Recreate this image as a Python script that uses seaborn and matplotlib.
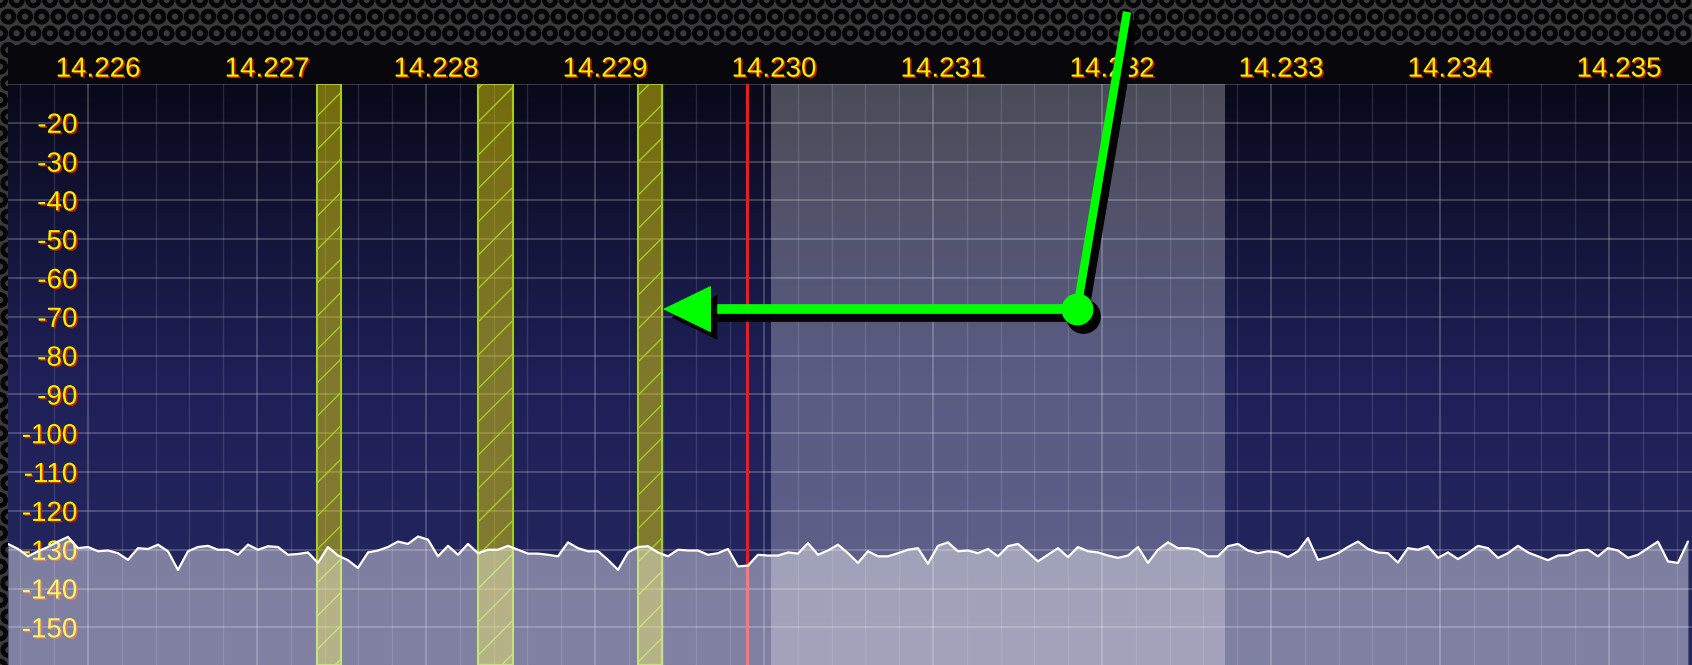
import numpy as np
import pandas as pd
import matplotlib
matplotlib.use("Agg")
import matplotlib.pyplot as plt
import matplotlib.patheffects as pe
from matplotlib.colors import LinearSegmentedColormap
from matplotlib.patches import Rectangle
from matplotlib.transforms import ScaledTranslation
import seaborn as sns

# --- data ---
freq_start = 14.225527   # MHz, first bin at left edge
freq_end = 14.235467     # MHz, last bin at right edge
levels_db = [
    -128.5, -129.8, -131.7, -130.4, -129.3, -127.9, -126.7, -129.6, -129.3, -130.4,
    -130.2, -130.9, -132.6, -129.6, -129.8, -128.7, -130.4, -135.2, -130.4, -129.3,
    -129.0, -130.0, -130.0, -131.3, -128.7, -130.0, -129.1, -129.3, -131.3,
    -131.1, -130.7, -133.4, -129.3, -131.5, -132.7, -134.7, -130.7, -130.2, -129.3,
    -127.9, -128.5, -126.6, -127.4, -131.7, -129.0, -131.3, -128.5, -130.9, -130.0,
    -130.0, -129.0, -130.0, -131.0, -131.0, -131.3, -131.7, -128.1, -129.6,
    -130.4, -130.4, -132.6, -135.2, -130.7, -129.3, -129.1, -130.7, -131.7, -130.0,
    -130.2, -130.2, -131.3, -130.9, -129.8, -134.3, -134.1, -131.3, -131.5, -131.5,
    -130.7, -131.0, -128.3, -131.3, -130.2, -128.7, -130.9, -133.4, -130.4,
    -131.7, -131.7, -130.9, -130.0, -129.6, -133.6, -129.0, -128.1, -130.4, -130.2,
    -130.9, -129.8, -131.7, -129.1, -128.5, -130.7, -133.0, -131.3, -129.6, -131.9,
    -129.3, -130.4, -130.7, -131.5, -132.1, -131.5, -129.3, -133.4, -130.0,
    -128.1, -129.6, -129.6, -130.0, -131.7, -131.7, -129.1, -128.5, -130.2, -130.9,
    -130.4, -130.7, -131.9, -130.4, -127.0, -132.6, -131.9, -130.9, -129.3, -127.9,
    -129.8, -130.7, -130.9, -133.3, -129.6, -130.0, -129.1, -132.1, -130.7,
    -132.4, -130.9, -129.0, -129.6, -132.1, -130.9, -129.0, -130.7, -131.7, -132.7,
    -131.5, -131.4, -130.2, -130.0, -131.7, -129.6, -130.2, -132.1, -131.3, -129.6,
    -127.9, -133.0, -133.4, -127.9,
]
x_ticks = [14.226, 14.227, 14.228, 14.229, 14.230, 14.231, 14.232, 14.233, 14.234, 14.235]
x_tick_labels = ["14.226", "14.227", "14.228", "14.229", "14.230",
                 "14.231", "14.232", "14.233", "14.234", "14.235"]
y_ticks = [-20, -30, -40, -50, -60, -70, -80, -90, -100, -110, -120, -130, -140, -150]
y_tick_labels = [str(v) for v in y_ticks]

# markers (spots) shown as yellow bands
marker_low = [14.227355, 14.228308, 14.229254]
marker_high = [14.227497, 14.228515, 14.229396]
tuned_freq = 14.22990
filter_low = 14.23004
filter_high = 14.23273

# green annotation arrow
circle_x, circle_y = 14.231852, -68.0
arrow_tip_x = 14.229402
stick_top_x, stick_top_y = 14.232148, 8.6

x_min, x_max = 14.225527, 14.235491
y_min, y_max = -159.7, -10.0

spectrum = pd.DataFrame({
    "freq": np.linspace(freq_start, freq_end, len(levels_db)),
    "level": levels_db,
})

# --- figure ---
sns.set_style("dark")
plt.rcParams["font.family"] = ["Liberation Sans", "DejaVu Sans"]
plt.rcParams["hatch.linewidth"] = 1.0

fig = plt.figure(figsize=(16.92, 6.65), dpi=100)
fig.patch.set_facecolor("#3a3a3c")
metal = Rectangle((0, 0), 1, 1, transform=fig.transFigure, facecolor="#3a3a3c",
                  edgecolor="#050505", hatch="O", lw=0, zorder=-10)
if hasattr(metal, "set_hatch_linewidth"):
    metal.set_hatch_linewidth(3.0)
fig.add_artist(metal)
left = 8 / 1692
top = 1 - 84 / 665
fig.add_artist(Rectangle((left, top), 1 - left, 39 / 665, transform=fig.transFigure,
                         facecolor="#07070c", edgecolor="none", zorder=-5))

ax = fig.add_axes([left, 0, 1 - left, top])

# background gradient: near black at the top, navy towards the noise floor
bg_cmap = LinearSegmentedColormap.from_list("bg", ["#252760", "#1e2057", "#09091a"])
grad = np.linspace(0, 1, 256).reshape(-1, 1)
ax.imshow(grad, extent=[x_min, x_max, y_min, y_max], origin="lower", aspect="auto",
          cmap=bg_cmap, zorder=0)

# filter passband
ax.axvspan(filter_low, filter_high, color="white", alpha=0.27, lw=0, zorder=2)

# spot markers
for lo, hi in zip(marker_low, marker_high):
    ax.axvspan(lo, hi, facecolor=(0.92, 0.85, 0.0, 0.48), edgecolor="#a2cc24",
               hatch="/", lw=1.5, zorder=3)

# tuned frequency
ax.axvline(tuned_freq, color="#ff1414", lw=2.3, zorder=3)

# noise floor
ax.fill_between(spectrum["freq"], spectrum["level"], y_min, color="white", alpha=0.42,
                lw=0, zorder=4)
sns.lineplot(data=spectrum, x="freq", y="level", color="white", lw=1.6, ax=ax, zorder=6)

# grid
ax.set_xticks(x_ticks)
ax.set_xticks(np.arange(14.2256, 14.2355, 0.0002), minor=True)
ax.set_yticks([-10] + y_ticks)
ax.set_yticklabels([""] + y_tick_labels)
ax.grid(which="major", color="white", alpha=0.26, lw=1.1, zorder=5)
ax.grid(which="minor", axis="x", color="white", alpha=0.12, lw=1.0, zorder=5)
ax.set_axisbelow(False)

ax.set_xlim(x_min, x_max)
ax.set_ylim(y_min, y_max)
ax.set_xlabel("")
ax.set_ylabel("")
for s in ax.spines.values():
    s.set_visible(False)

label_fx = [pe.SimplePatchShadow(offset=(1.2, -1.0), shadow_rgbFace="#c01c00", alpha=1.0),
            pe.Normal()]
ax.xaxis.tick_top()
ax.set_xticklabels(x_tick_labels)
ax.tick_params(axis="x", which="both", length=0, pad=1, labelsize=20, colors="#f0f000")
ax.tick_params(axis="y", which="both", length=0, pad=-50, labelsize=20, colors="#f0f000")
for lab in ax.get_xticklabels():
    lab.set_path_effects(label_fx)
    lab.set_transform(lab.get_transform() + ScaledTranslation(0.1, 0, fig.dpi_scale_trans))
for lab in ax.get_yticklabels():
    lab.set_path_effects(label_fx)
    lab.set_zorder(7)

# green arrow with drop shadow
green = "#00ff00"
shadow_shift = ScaledTranslation(0.06, -0.07, fig.dpi_scale_trans)
line_shadow = [pe.SimpleLineShadow(offset=(5, -6), shadow_color="black", alpha=0.95), pe.Normal()]
ax.plot([circle_x, stick_top_x], [circle_y, stick_top_y], color=green, lw=6,
        solid_capstyle="butt", clip_on=False, zorder=10, path_effects=line_shadow)
ax.plot([circle_x, arrow_tip_x + 0.00012], [circle_y, circle_y], color=green, lw=7,
        solid_capstyle="butt", zorder=10, path_effects=line_shadow)
ax.annotate("", xy=(arrow_tip_x, circle_y), xytext=(arrow_tip_x + 0.0003, circle_y),
            arrowprops=dict(arrowstyle="-|>,head_length=0.66,head_width=0.32",
                            mutation_scale=50, lw=1, color=green,
                            shrinkA=0, shrinkB=0,
                            path_effects=[pe.SimplePatchShadow(offset=(5, -6), shadow_rgbFace="black",
                                                               alpha=0.95), pe.Normal()]),
            zorder=10)
ax.plot([circle_x], [circle_y], "o", ms=24, color="black", mec="black", zorder=9,
        transform=ax.transData + shadow_shift)
ax.plot([circle_x], [circle_y], "o", ms=22, color=green, mec=green, zorder=11)

fig.savefig("out.png", dpi=100)
